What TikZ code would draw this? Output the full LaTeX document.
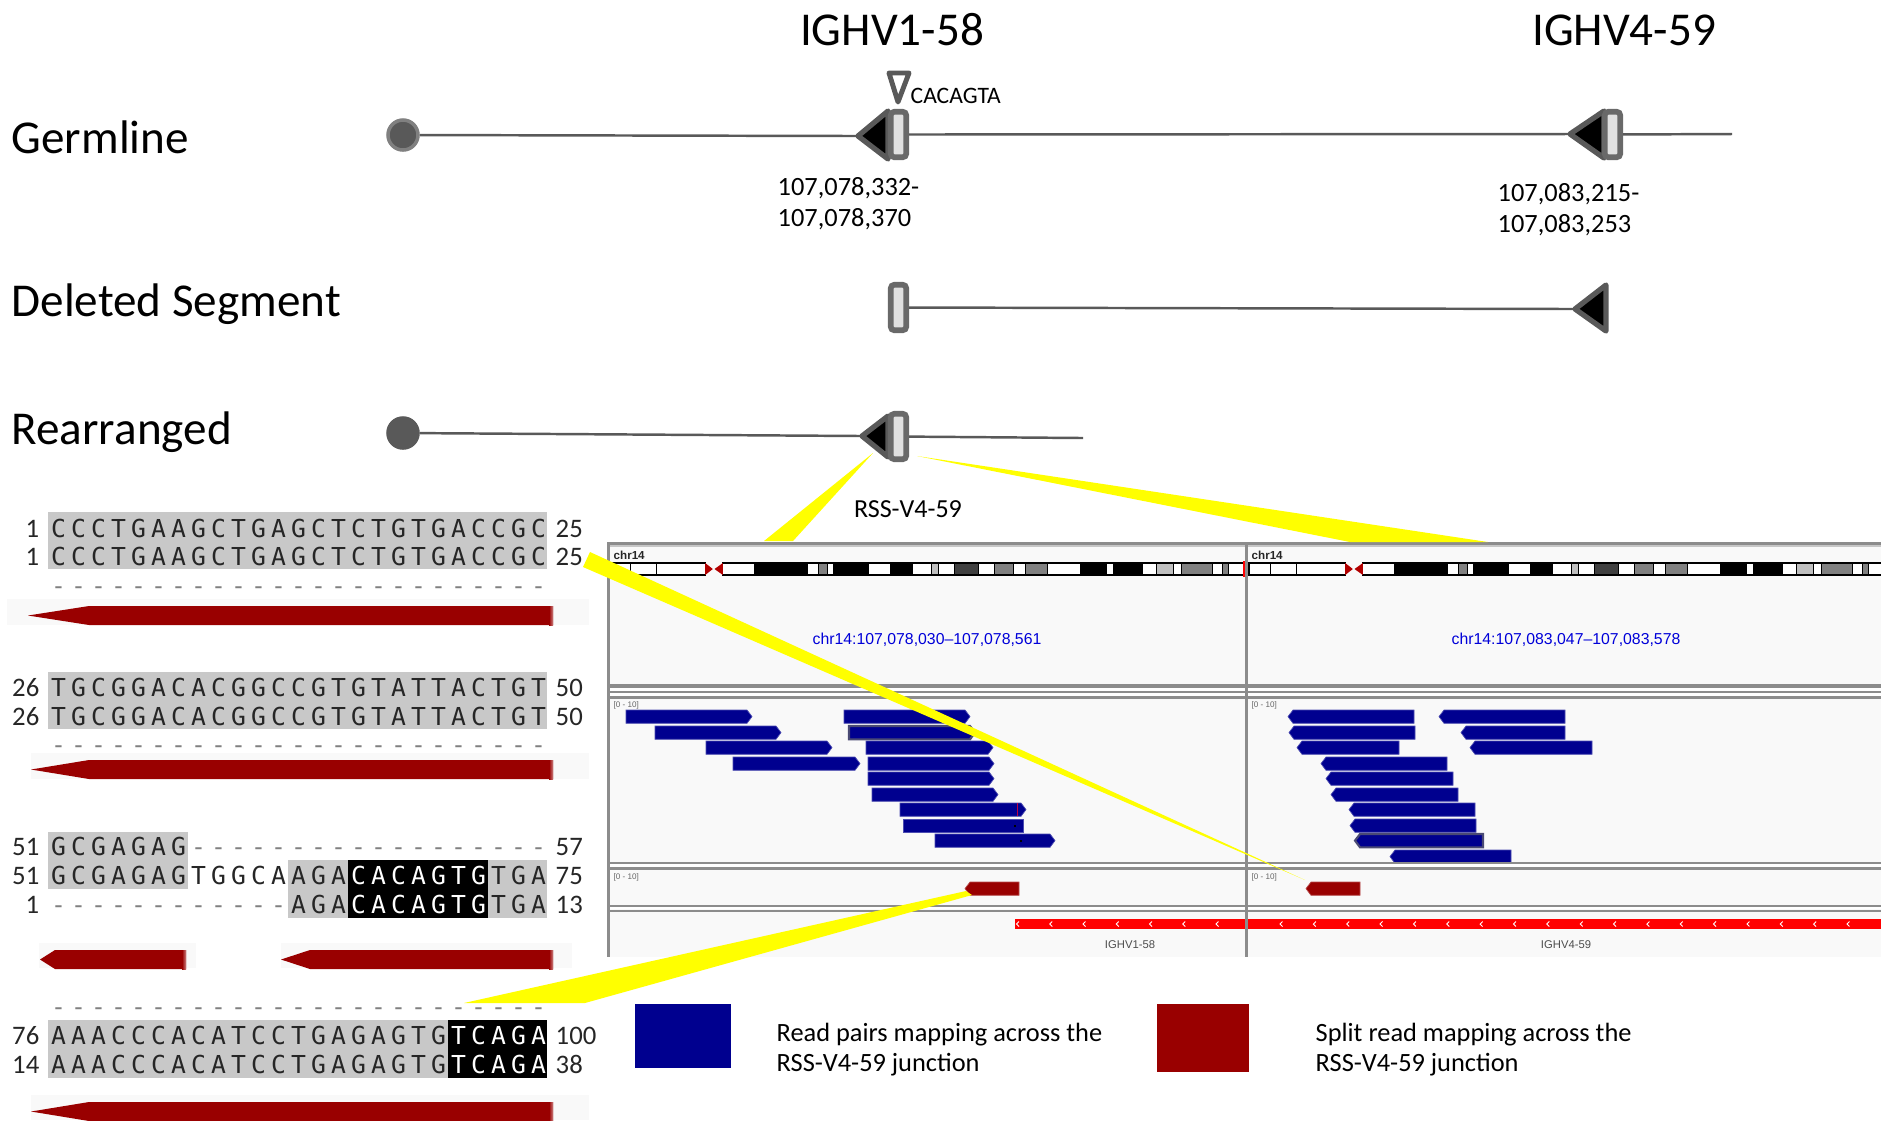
\documentclass[tikz,border=0pt]{standalone}
\usepackage{fontspec}
\usepackage{xcolor}
\setmainfont{Carlito}
\newfontfamily\seqfont[LetterSpace=20.7]{DejaVu Sans Mono}
\newfontfamily\igvfont{Liberation Sans}

\definecolor{genegray}{HTML}{595959}
\definecolor{boxgray}{HTML}{696969}
\definecolor{boxfill}{HTML}{E0E0E0}
\definecolor{alngray}{HTML}{C8C8C8}
\definecolor{dashgray}{HTML}{808080}
\definecolor{splitred}{HTML}{990000}
\definecolor{pairblue}{HTML}{00008F}
\definecolor{panelbg}{HTML}{F9F9F9}
\definecolor{panelline}{HTML}{8C8C8C}
\definecolor{wedgeyellow}{HTML}{FFFF00}

\tikzset{
    headlabel/.style={font=\fontsize{13.4}{16}\selectfont, inner sep=0pt},
    rowlabel/.style={headlabel, anchor=west},
    poslabel/.style={font=\fontsize{7.5}{8.8}\selectfont, inner sep=0pt, align=left, anchor=north west},
    geneline/.style={genegray, line width=0.7pt},
    segbox/.style={draw=boxgray, fill=boxfill, line width=1.6pt, rounded corners=1pt, inner sep=0pt,
        minimum width=0.155cm, minimum height=0.455cm},
    rssmark/.style={draw=genegray, fill=black, line width=1.5pt, line join=round},
    enddot/.style={circle, fill=genegray, draw=dashgray, line width=1pt, inner sep=0pt, minimum size=0.3cm},
    seqtext/.style={font=\seqfont\fontsize{7.03}{8}\selectfont, text=black!85, anchor=base west, inner sep=0pt},
    seqdash/.style={seqtext, text=dashgray},
    seqhit/.style={seqtext, text=white},
    numleft/.style={font=\fontsize{7.6}{9}\selectfont, text=black!85, anchor=base east, inner sep=0pt},
    numright/.style={font=\fontsize{7.6}{9}\selectfont, text=black!85, anchor=base west, inner sep=0pt},
    alnblock/.style={fill=alngray},
    hitblock/.style={fill=black},
    igvtext/.style={font=\igvfont\fontsize{4.5}{5}\selectfont, text=blue!85!black, inner sep=0pt},
    igvchr/.style={font=\igvfont\bfseries\fontsize{3.3}{4}\selectfont, text=black!85, anchor=west, inner sep=0pt},
    igvrange/.style={font=\igvfont\fontsize{2.3}{3}\selectfont, text=black!60, anchor=west, inner sep=0pt},
    igvgene/.style={font=\igvfont\fontsize{3.2}{4}\selectfont, text=black!70, inner sep=0pt},
    readbar/.style={fill=pairblue, draw=pairblue!70!white, line width=0.2pt},
    readmark/.style={readbar, draw=boxgray!70!pairblue, line width=0.6pt},
    splitbar/.style={fill=splitred, draw=splitred!70!white, line width=0.2pt},
    wedge/.style={fill=wedgeyellow},
    legendtext/.style={font=\fontsize{7.5}{8.8}\selectfont, inner sep=0pt, align=left, anchor=north west}
}

% read shapes: x left, x right, y top
\newcommand{\readRight}[4][readbar]{\draw[#1] (#2,#4) -- ({#3-5},#4) -- (#3,{#4+6.6}) -- ({#3-5},{#4+13.3}) -- (#2,{#4+13.3}) -- cycle;}
\newcommand{\readLeft}[4][readbar]{\draw[#1] (#3,#4) -- ({#2+5},#4) -- (#2,{#4+6.6}) -- ({#2+5},{#4+13.3}) -- (#3,{#4+13.3}) -- cycle;}
% dark red bar below the alignment: tip x, shoulder x, right x, y top
\newcommand{\splitArrow}[4]{\fill[splitred] (#1,{#4+9.5}) -- (#2,#4) -- (#3,#4) -- (#3,{#4+19}) -- (#2,{#4+19}) -- cycle;
    \shade[left color=splitred, right color=splitred!50!white] ({#3-4},#4) rectangle (#3,{#4+19});}
% chromosome bands, x measured from the panel edge
\newcommand{\ideogram}[1]{\begin{scope}[shift={(#1,0)}]
    \foreach \bandA/\bandB/\bandC in {1/22.3/white,22.3/48.8/white,48.8/97.2/white,114.9/146.9/white,146.9/199.5/black,
        199.5/210.9/white,210.9/219.3/black!50,219.3/225.6/white,225.6/260.5/black,260.5/282.4/white,282.4/304.7/black,
        304.7/323.2/white,323.2/330.8/black!25,330.8/346.4/white,346.4/370.8/black!75,370.8/386.4/white,386.4/405.7/black!50,
        405.7/417.9/white,417.9/439.4/black!50,439.4/472.6/white,472.6/498.7/black,498.7/505.5/white,505.5/534.9/black,
        534.9/548.4/white,548.4/565.2/black!25,565.2/573.6/white,573.6/604.4/black!50,604.4/614.9/white,614.9/620.4/black!50,
        620.4/640/white}
        \draw[black, line width=0.3pt, fill=\bandC] (\bandA,563) rectangle (\bandB,575);
    \fill[red!70!black] (97.2,563) -- (104.8,569) -- (97.2,575) -- cycle;
    \fill[red!70!black] (114.9,563) -- (106.5,569) -- (114.9,575) -- cycle;
\end{scope}}

\begin{document}
\begin{tikzpicture}[x=0.01cm,y=-0.01cm]
    \useasboundingbox (0,0) rectangle (1881,1120);

    % Gene maps
    \node[headlabel] (titleVone) at (892,30) {IGHV1-58};
    \node[headlabel] (titleVfour) at (1624,30) {IGHV4-59};
    \node[rowlabel] (labGerm) at (11,137) {Germline};
    \node[rowlabel] (labDel) at (11,304) {Deleted Segment};
    \node[rowlabel] (labRear) at (11,432) {Rearranged};

    \node[enddot] (germDot) at (403,135) {};
    \coordinate (germTipA) at (858,136);
    \coordinate (germTipB) at (1570,134);
    \coordinate (germEnd) at (1732,134);
    \draw[geneline] (germDot) -- (germTipA);
    \draw[rssmark] (germTipA) -- (888,111) -- (888,159) -- cycle;
    \node[segbox] (germBoxA) at (898.5,134.5) {};
    \draw[geneline] (germBoxA) -- (germTipB);
    \draw[rssmark] (germTipB) -- (1604,111) -- (1604,158) -- cycle;
    \node[segbox] (germBoxB) at (1612.5,134.5) {};
    \draw[geneline] (germBoxB) -- (germEnd);
    \draw[draw=genegray, fill=white, line width=1.4pt, line join=round] (889,73) -- (909,73) -- (898,102) -- cycle;
    \node[font=\fontsize{6.7}{8}\selectfont, inner sep=0pt, anchor=west] (insertSeq) at (910,96) {CACAGTA};
    \node[poslabel] (posVone) at (777,177) {107,078,332-\\107,078,370};
    \node[poslabel] (posVfour) at (1497,183) {107,083,215-\\107,083,253};

    \node[segbox] (delBox) at (898.5,307.5) {};
    \coordinate (delTip) at (1575,309);
    \draw[geneline] (delBox) -- (delTip);
    \draw[rssmark] (delTip) -- (1606,285) -- (1606,331) -- cycle;

    \node[enddot, draw=genegray] (rearDot) at (403,433) {};
    \coordinate (rearTip) at (862,436);
    \coordinate (rearEnd) at (1083,438);
    \draw[geneline] (rearDot) -- (rearTip);
    \draw[rssmark] (rearTip) -- (888,416) -- (888,457) -- cycle;
    \node[segbox] (rearBox) at (898.5,436.5) {};
    \draw[geneline] (rearBox) -- (rearEnd);
    \node[font=\fontsize{7.4}{9}\selectfont, inner sep=0pt] (rssLabel) at (908,509) {RSS-V4-59};

    % Alignment blocks
    \fill[alnblock] (48,512) rectangle (547,569);
    \fill[alnblock] (48,672) rectangle (547,729);
    \fill[alnblock] (48,832) rectangle (188,889);
    \fill[alnblock] (288,860) rectangle (547,918);
    \fill[hitblock] (348,860) rectangle (488,918);
    \fill[alnblock] (48,1020) rectangle (547,1078);
    \fill[hitblock] (448,1020) rectangle (547,1078);

    \node[seqtext] (seqOneA) at (50.5,537) {CCCTGAAGCTGAGCTCTGTGACCGC};
    \node[seqtext] (seqOneB) at (50.5,565) {CCCTGAAGCTGAGCTCTGTGACCGC};
    \node[seqdash] (seqOneC) at (50.5,594) {-------------------------};
    \node[seqtext] (seqTwoA) at (50.5,696) {TGCGGACACGGCCGTGTATTACTGT};
    \node[seqtext] (seqTwoB) at (50.5,725) {TGCGGACACGGCCGTGTATTACTGT};
    \node[seqdash] (seqTwoC) at (50.5,753) {-------------------------};
    \node[seqtext] (seqThreeA) at (50.5,855) {GCGAGAG};
    \node[seqdash] (seqThreeAgap) at (190.5,855) {------------------};
    \node[seqtext] (seqThreeB) at (50.5,884) {GCGAGAGTGGCAAGA};
    \node[seqhit] (seqThreeBhit) at (350.5,884) {CACAGTG};
    \node[seqtext] (seqThreeBend) at (490.5,884) {TGA};
    \node[seqdash] (seqThreeCgap) at (50.5,913) {------------};
    \node[seqtext] (seqThreeC) at (290.5,913) {AGA};
    \node[seqhit] (seqThreeChit) at (350.5,913) {CACAGTG};
    \node[seqtext] (seqThreeCend) at (490.5,913) {TGA};
    \node[seqdash] (seqFourC) at (50.5,1015) {-------------------------};
    \node[seqtext] (seqFourA) at (50.5,1044) {AAACCCACATCCTGAGAGTG};
    \node[seqhit] (seqFourAhit) at (450.5,1044) {TCAGA};
    \node[seqtext] (seqFourB) at (50.5,1073) {AAACCCACATCCTGAGAGTG};
    \node[seqhit] (seqFourBhit) at (450.5,1073) {TCAGA};

    \node[numleft] (numOneA) at (40,537) {1};
    \node[numleft] (numOneB) at (40,565) {1};
    \node[numleft] (numTwoA) at (40,696) {26};
    \node[numleft] (numTwoB) at (40,725) {26};
    \node[numleft] (numThreeA) at (40,855) {51};
    \node[numleft] (numThreeB) at (40,884) {51};
    \node[numleft] (numThreeC) at (40,913) {1};
    \node[numleft] (numFourA) at (40,1044) {76};
    \node[numleft] (numFourB) at (40,1073) {14};
    \node[numright] (endOneA) at (555,537) {25};
    \node[numright] (endOneB) at (555,565) {25};
    \node[numright] (endTwoA) at (555,696) {50};
    \node[numright] (endTwoB) at (555,725) {50};
    \node[numright] (endThreeA) at (555,855) {57};
    \node[numright] (endThreeB) at (555,884) {75};
    \node[numright] (endThreeC) at (555,913) {13};
    \node[numright] (endFourA) at (555,1044) {100};
    \node[numright] (endFourB) at (555,1073) {38};

    \fill[panelbg] (7,599) rectangle (589,625);
    \fill[panelbg] (31,753) rectangle (589,779);
    \fill[panelbg] (39,943) rectangle (196,968);
    \fill[panelbg] (281,943) rectangle (572,968);
    \fill[panelbg] (31,1095) rectangle (589,1120);
    \splitArrow{28}{89}{553}{606}
    \splitArrow{31}{89}{553}{760}
    \splitArrow{40}{55}{186}{950}
    \splitArrow{281}{310}{553}{950}
    \splitArrow{31}{89}{553}{1102}

    % IGV panels
    \fill[panelbg] (608,546) rectangle (1881,957);
    \fill[white] (608,688) rectangle (1881,696);
    \fill[white] (608,864) rectangle (1881,867);
    \fill[white] (608,907) rectangle (1881,909);
    \ideogram{608}
    \ideogram{1248}
    \fill[red] (1243,561) rectangle (1245,577);
    \node[igvchr] (chrLeft) at (613,555) {chr14};
    \node[igvchr] (chrRight) at (1251,555) {chr14};
    \node[igvtext] (regionLeft) at (927,640) {chr14:107,078,030–107,078,561};
    \node[igvtext] (regionRight) at (1566,640) {chr14:107,083,047–107,083,578};
    \node[igvrange] (rangePairLeft) at (613,705) {[0 - 10]};
    \node[igvrange] (rangePairRight) at (1251,705) {[0 - 10]};
    \node[igvrange] (rangeSplitLeft) at (613,877) {[0 - 10]};
    \node[igvrange] (rangeSplitRight) at (1251,877) {[0 - 10]};

    \readRight{626}{752}{710}
    \readRight{844}{970}{710}
    \readRight{655}{781}{726}
    \readRight[readmark]{849}{975}{726}
    \readRight{706}{832}{741}
    \readRight{866}{993}{741}
    \readRight{733}{860}{757}
    \readRight{868}{994}{757}
    \readRight{868}{994}{772}
    \readRight{872}{998}{788}
    \readRight{900}{1026}{803}
    \draw[readbar] (903,819) rectangle (1023,832.3);
    \readRight{935}{1055}{834}
    \fill[purple] (1016.5,803) rectangle (1017.5,816);
    \fill[black] (1014,825) rectangle (1016,827);
    \fill[black] (1020,840) rectangle (1022,842);

    \readLeft{1288}{1414}{710}
    \readLeft{1439}{1565}{710}
    \readLeft{1289}{1415}{726}
    \readLeft{1461}{1565}{726}
    \readLeft{1297}{1399}{741}
    \readLeft{1470}{1592}{741}
    \readLeft{1321}{1447}{757}
    \readLeft{1326}{1453}{772}
    \readLeft{1331}{1458}{788}
    \readLeft{1349}{1475}{803}
    \readLeft{1350}{1476}{819}
    \readLeft[readmark]{1355}{1483}{834}
    \readLeft{1390}{1511}{850}

    \readLeft[splitbar]{965}{1019}{882}
    \readLeft[splitbar]{1306}{1360}{882}

    \fill[red] (1015,919) rectangle (1881,929);
    \foreach \tickx in {0,...,6}
        \draw[white, line width=0.25pt] ({1019+33.25*\tickx},921.5) -- ({1016.5+33.25*\tickx},924) -- ({1019+33.25*\tickx},926.5);
    \foreach \tickx in {0,...,17}
        \draw[white, line width=0.25pt] ({1282.5+33.35*\tickx},921.5) -- ({1280+33.35*\tickx},924) -- ({1282.5+33.35*\tickx},926.5);
    \node[igvgene] (geneVone) at (1130,945) {IGHV1-58};
    \node[igvgene] (geneVfour) at (1566,945) {IGHV4-59};

    \draw[panelline, line width=0.7pt] (607,543.5) -- (1881,543.5);
    \draw[panelline!50!white, line width=0.4pt] (607,546) -- (1881,546);
    \draw[panelline, line width=1.3pt] (607,686) -- (1881,686);
    \draw[panelline, line width=0.4pt] (607,692) -- (1881,692);
    \draw[panelline, line width=0.7pt] (607,697.5) -- (1881,697.5);
    \draw[panelline, line width=0.7pt] (607,863) -- (1881,863);
    \draw[panelline, line width=0.7pt] (607,868.5) -- (1881,868.5);
    \draw[panelline, line width=0.7pt] (607,906) -- (1881,906);
    \draw[panelline, line width=0.7pt] (607,911) -- (1881,911);
    \draw[panelline, line width=0.6pt] (608.5,543) -- (608.5,957);
    \draw[panelline, line width=0.6pt] (1246.5,543) -- (1246.5,957);

    % Yellow zoom wedges
    \fill[wedge] (873,453) -- (793,541) -- (764,541) -- cycle;
    \fill[wedge] (917,456) -- (1488,542) -- (1350,542) -- cycle;
    \fill[wedge] (590,552) -- (1305,880) -- (583,567) -- cycle;
    \fill[wedge] (966,891) -- (972,895) -- (585,1003) -- (464,1003) -- cycle;

    % Legend
    \fill[pairblue] (635,1004) rectangle (731,1068);
    \fill[splitred] (1157,1004) rectangle (1249,1072);
    \node[legendtext] (legPair) at (776,1022) {Read pairs mapping across the\\RSS-V4-59 junction};
    \node[legendtext] (legSplit) at (1315,1022) {Split read mapping across the\\RSS-V4-59 junction};
\end{tikzpicture}
\end{document}
